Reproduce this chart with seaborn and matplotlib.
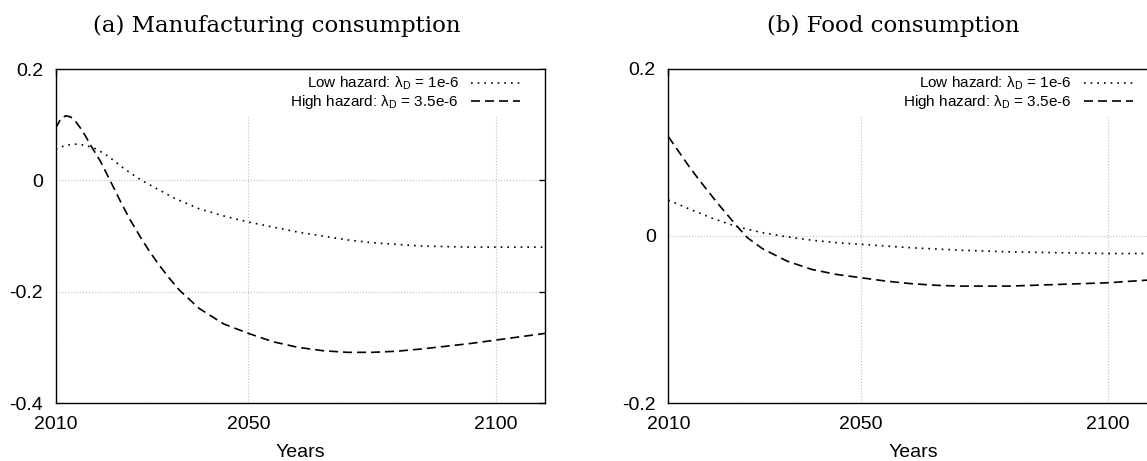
import numpy as np
import pandas as pd
import matplotlib
matplotlib.use("Agg")
import matplotlib.pyplot as plt
from matplotlib.patches import Rectangle
import seaborn as sns

# values
low_label = r'Low hazard: $\lambda_D$ = 1e-6'
high_label = r'High hazard: $\lambda_D$ = 3.5e-6'

# (a) manufacturing consumption
manu_low_years = [2011, 2013, 2015, 2017, 2019, 2021, 2023, 2025, 2028, 2030, 2035, 2040, 2045,
                  2050, 2055, 2060, 2065, 2070, 2075, 2080, 2085, 2090, 2095, 2100, 2105, 2110]
manu_low = [0.056, 0.063, 0.065, 0.063, 0.057, 0.047, 0.034, 0.020, 0.002, -0.008, -0.032, -0.051, -0.064,
            -0.075, -0.084, -0.093, -0.100, -0.107, -0.112, -0.115, -0.118, -0.119, -0.120, -0.120, -0.120, -0.120]
manu_high_years = [2011, 2012, 2013, 2014, 2015, 2016, 2017, 2018, 2020, 2022, 2024, 2026, 2028, 2030,
                   2032, 2034, 2036, 2040, 2045, 2050, 2055, 2060, 2065, 2070, 2075, 2080, 2085, 2090,
                   2095, 2100, 2105, 2110]
manu_high = [0.094, 0.110, 0.116, 0.114, 0.106, 0.094, 0.080, 0.064, 0.035, 0.0, -0.036, -0.070, -0.100, -0.128,
             -0.153, -0.176, -0.197, -0.230, -0.258, -0.275, -0.290, -0.300, -0.306, -0.309, -0.309, -0.307,
             -0.303, -0.298, -0.293, -0.287, -0.281, -0.275]

# (b) food consumption
food_low_years = [2011, 2015, 2020, 2025, 2030, 2035, 2040, 2045, 2050, 2060, 2070, 2080, 2090, 2100, 2110]
food_low = [0.043, 0.033, 0.021, 0.011, 0.004, -0.001, -0.005, -0.008, -0.010, -0.014, -0.017, -0.019,
            -0.020, -0.021, -0.021]
food_high_years = [2011, 2013, 2015, 2017, 2019, 2021, 2023, 2025, 2027, 2030, 2035, 2040, 2045, 2050, 2055,
                   2060, 2065, 2070, 2075, 2080, 2085, 2090, 2095, 2100, 2105, 2110]
food_high = [0.119, 0.102, 0.085, 0.069, 0.054, 0.039, 0.025, 0.011, -0.002, -0.015, -0.030, -0.040, -0.046,
             -0.050, -0.054, -0.057, -0.059, -0.060, -0.060, -0.060, -0.059, -0.058, -0.057, -0.056, -0.054,
             -0.052]

xtick_pos = [2011, 2050, 2100]
xtick_labels = ['2010', '2050', '2100']
manu_yticks = [0.2, 0, -0.2, -0.4]
manu_ylabels = ['0.2', '0', '-0.2', '-0.4']
food_yticks = [0.2, 0, -0.2]
food_ylabels = ['0.2', '0', '-0.2']


def make_df(low_years, low, high_years, high):
    a = pd.DataFrame({'year': low_years, 'value': low, 'series': low_label})
    b = pd.DataFrame({'year': high_years, 'value': high, 'series': high_label})
    return pd.concat([a, b], ignore_index=True)


sns.set_style("white")
plt.rcParams['font.family'] = ['Liberation Sans', 'DejaVu Sans']
plt.rcParams['mathtext.default'] = 'regular'
plt.rcParams['axes.unicode_minus'] = False
plt.rcParams['text.color'] = 'black'
plt.rcParams['axes.labelcolor'] = 'black'

W, H = 1147, 461
fig = plt.figure(figsize=(W / 100, H / 100), dpi=100)
ax1 = fig.add_axes([55.7 / W, 58 / H, 489.3 / W, 334 / H])
ax2 = fig.add_axes([668.3 / W, 58 / H, 489.3 / W, 334 / H])

dash_map = {low_label: (1, 3), high_label: (5.4, 3)}


def draw(ax, df, ylim, yticks, ylabels):
    sns.lineplot(data=df, x='year', y='value', style='series',
                 style_order=[low_label, high_label], dashes=dash_map,
                 color='black', lw=1.2, estimator=None, ax=ax)
    handles, labels = ax.get_legend_handles_labels()
    ax.legend(handles, labels, loc='upper right', bbox_to_anchor=(0.949, 0.982),
              frameon=False, fontsize=11, markerfirst=False, handlelength=3.2,
              handletextpad=0.8, borderpad=0, borderaxespad=0, labelspacing=0.05)
    ax.set_xlim(2011, 2110)
    ax.set_ylim(*ylim)
    ax.set_xticks(xtick_pos, xtick_labels)
    ax.set_yticks(yticks, ylabels)
    ax.tick_params(direction='in', top=True, right=True, length=4, width=1,
                   labelsize=14, pad=9, colors='black')
    ax.grid(True, color='#bdbdbd', linestyle=':', linewidth=0.8)
    # key area hides the grid like the original
    ax.add_patch(Rectangle((0.37, 0.855), 0.63, 0.145, transform=ax.transAxes,
                           facecolor='white', edgecolor='none', zorder=1))
    for s in ax.spines.values():
        s.set_color('black')
        s.set_linewidth(1.0)
    ax.set_xlabel('Years', fontsize=14, labelpad=8)
    ax.set_ylabel('')


draw(ax1, make_df(manu_low_years, manu_low, manu_high_years, manu_high), (-0.4, 0.2), manu_yticks, manu_ylabels)
draw(ax2, make_df(food_low_years, food_low, food_high_years, food_high), (-0.2, 0.2), food_yticks, food_ylabels)

fig.text(277 / W, 1 - 32 / H, '(a) Manufacturing consumption', ha='center', va='baseline',
         family='DejaVu Serif', fontsize=16.5)
fig.text(893 / W, 1 - 32 / H, '(b) Food consumption', ha='center', va='baseline',
         family='DejaVu Serif', fontsize=16.5)

fig.savefig('out.png', dpi=100)
